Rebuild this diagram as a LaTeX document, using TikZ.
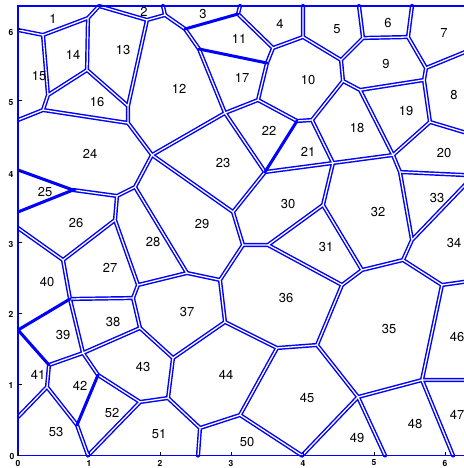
\documentclass[tikz,border=0pt]{standalone}
\usepackage{fontspec}
\setmainfont{TeX Gyre Heros}

\begin{document}
\begin{tikzpicture}[
  x=1bp, y=-1bp,
  wall/.style={draw=white, line width=1.3bp, line join=round,
    preaction={draw=blue, line width=4.2bp, line join=round, line cap=round}},
  thickwall/.style={draw=blue, line width=3bp, line cap=round},
  frame/.style={draw=blue, line width=1.8bp},
  cell/.style={font=\fontsize{13}{13}\selectfont, inner sep=0pt},
  tick/.style={draw=black, line width=0.6bp},
  ticklabel/.style={font=\fontsize{8.5}{9}\selectfont\bfseries, inner sep=0pt}
]
\useasboundingbox (0,0) rectangle (464,468);

% where the walls meet the frame
\coordinate (Tp2) at (163,6);
\coordinate (Tp3) at (240,6);
\coordinate (Tp4) at (303,6);
\coordinate (Tp5) at (359,6);
\coordinate (Tp6) at (412,6);
\coordinate (Lf1) at (18,30);
\coordinate (Lf2) at (18,120);
\coordinate (Lf3) at (18,170);
\coordinate (Lf4) at (18,212);
\coordinate (Lf5) at (18,228);
\coordinate (Lf6) at (18,330);
\coordinate (Lf7) at (18,417);
\coordinate (Bt1) at (88,455.5);
\coordinate (Bt3) at (198,455.5);
\coordinate (Bt4) at (302,455.5);
\coordinate (Bt5) at (385,455.5);
\coordinate (Bt6) at (453,455.5);
\coordinate (Rt1) at (470,50);
\coordinate (Rt2) at (470,134);
\coordinate (Rt3) at (470,175.3);
\coordinate (Rt4) at (470,179.7);
\coordinate (Rt5) at (470,281);
\coordinate (Rt6) at (470,380);

% upper vertices
\coordinate (a) at (43,35);
\coordinate (a2) at (88,18);
\coordinate (b) at (99,6);
\coordinate (c) at (147,20);
\coordinate (d) at (165,15);
\coordinate (e) at (185,29);
\coordinate (f) at (238,14);
\coordinate (g) at (199,49);
\coordinate (h) at (267,63);
\coordinate (i) at (273,48);
\coordinate (j) at (258,100);
\coordinate (k) at (303,37);
\coordinate (l) at (225,113);
\coordinate (m) at (297,121);
\coordinate (v) at (312,120);
\coordinate (n) at (341,60);
\coordinate (o) at (363,38);
\coordinate (p) at (343,81);
\coordinate (q) at (408,37);
\coordinate (r) at (426,68);
\coordinate (s) at (424,80);
\coordinate (t) at (360,90);
\coordinate (u) at (430,122);
\coordinate (w) at (393,155);

% middle vertices
\coordinate (A) at (87,70);
\coordinate (B) at (48,95);
\coordinate (C) at (43,110);
\coordinate (D) at (128,106);
\coordinate (E) at (128,123);
\coordinate (F) at (152,155);
\coordinate (G) at (135,187);
\coordinate (H) at (117,196);
\coordinate (T25) at (73,190);
\coordinate (I) at (115,220);
\coordinate (J) at (63,260);
\coordinate (K) at (70,299);
\coordinate (L) at (133,298);
\coordinate (M) at (138,285);
\coordinate (N) at (187,273);
\coordinate (O) at (233,212);
\coordinate (P) at (265,172);
\coordinate (Q) at (243,245);
\coordinate (R) at (268,245);
\coordinate (S) at (220,280);
\coordinate (U) at (333,163);
\coordinate (V) at (323,205);
\coordinate (W) at (362,270);
\coordinate (X) at (342,285);
\coordinate (Y) at (403,260);
\coordinate (Z) at (412,240);
\coordinate (AA) at (400,172);
\coordinate (BB) at (442,285);

% lower vertices
\coordinate (CC) at (225,322);
\coordinate (DD) at (277,348);
\coordinate (EE) at (317,345);
\coordinate (FF) at (358,397);
\coordinate (GG) at (422,380);
\coordinate (HH) at (140,328);
\coordinate (II) at (83,353);
\coordinate (JJ) at (49,365);
\coordinate (KK) at (47,387);
\coordinate (LL) at (77,425);
\coordinate (MM) at (98,375);
\coordinate (NN) at (140,402);
\coordinate (OO) at (173,358);
\coordinate (PP) at (168,398);
\coordinate (QQ) at (200,428);
\coordinate (RR) at (240,415);

\begin{scope}
\clip (17,5) rectangle (470,457);
\path[wall]
  (Lf1) -- (a) -- (a2) -- (b) -- (c) -- (d) -- (e) -- (g) -- (l) -- (j) -- (h)
    -- (i) -- (k) -- (n) -- (o) -- (q) -- (r) -- (s) -- (u) -- (w) -- (AA)
    -- (Z) -- (Y) -- (BB) -- (GG) -- (FF) -- (EE) -- (DD) -- (CC) -- (S) -- (N)
    -- (M) -- (L) -- (K) -- (J) -- (I) -- (H) -- (G) -- (F) -- (E) -- (D) -- (A)
    -- (B) -- (C) -- (Lf2)
  (Tp2) -- (d)  (Tp3) -- (f) -- (i)  (Tp4) -- (k)  (Tp5) -- (o)  (Tp6) -- (q)
  (Rt1) -- (r)  (Rt2) -- (u)  (Rt3) -- (AA)  (Rt4) -- (Z)  (Rt5) -- (BB)
  (Rt6) -- (GG) -- (Bt6)
  (j) -- (m) -- (v) -- (p) -- (n)
  (p) -- (t) -- (s)
  (t) -- (w) -- (U) -- (v)
  (U) -- (P) -- (l) -- (F) -- (O) -- (P)
  (O) -- (Q) -- (R) -- (V) -- (U)
  (V) -- (W) -- (X) -- (R)
  (Y) -- (W)  (X) -- (EE)  (S) -- (Q)
  (a2) -- (A)  (B) -- (a)  (C) -- (E)  (c) -- (D)
  (G) -- (N)  (H) -- (T25)  (I) -- (M)  (J) -- (Lf5)  (K) -- (II)  (L) -- (HH)
  (CC) -- (OO) -- (HH) -- (II) -- (JJ) -- (KK) -- (Lf7)
  (DD) -- (RR) -- (QQ) -- (PP) -- (OO)
  (Bt4) -- (FF) -- (Bt5)  (RR) -- (Bt4)  (QQ) -- (Bt3)
  (PP) -- (NN) -- (MM) -- (II)
  (KK) -- (LL) -- (Bt1) -- (NN);

% walls where the two sides run together
\draw[thickwall] (e) -- (f);
\draw[thickwall] (g) -- (h);
\draw[thickwall] (m) -- (P);
\draw[thickwall] (Lf3) -- (T25) -- (Lf4);
\draw[thickwall] (K) -- (Lf6) -- (JJ);
\draw[thickwall] (LL) -- (MM);
\end{scope}

\draw[frame] (470,6) -- (18,6) -- (18,455.5) -- (470,455.5);

% axes
\foreach \k/\x in {0/18,1/89,2/160,3/231,4/303,5/374,6/445} {
  \draw[tick] (\x,455.5) -- (\x,452);
  \node[ticklabel] at (\x,463) {\k};
}
\foreach \k/\y/\ly in {1/384.4/385,2/313.3/314,3/242.2/244,4/171.1/174,5/100/103,6/28.9/32} {
  \draw[tick] (18,\y) -- (21.5,\y);
  \node[ticklabel] at (11,\ly) {\k};
}
\node[ticklabel] at (12,456) {0};

% cell numbers
\foreach \n/\x/\y in {1/53/19, 2/144/12, 3/203/14, 4/280/24, 5/337/29,
  6/388/23, 7/444/33, 8/454/95, 9/386/64, 10/308/80, 11/239/39, 12/179/89,
  13/123/50, 14/73/55, 15/39/76, 16/97/102, 17/242/78, 18/357/128,
  19/406/111, 20/444/153, 21/308/152, 22/269/131, 23/223/163, 24/90/154,
  25/45/192, 26/76/223, 27/110/268, 28/153/242, 29/202/224, 30/288/204,
  31/326/247, 32/378/212, 33/437/198, 34/454/243, 35/389/329, 36/286/298,
  37/187/312, 38/113/322, 39/63/335, 40/47/282, 41/38/375, 42/80/386,
  43/143/367, 44/226/375, 45/307/398, 46/457/337, 47/457/415, 48/415/424,
  49/357/438, 50/247/442, 51/159/434, 52/112/413, 53/56/432}
  \node[cell] (c\n) at (\x,\y) {\n};

\end{tikzpicture}
\end{document}
